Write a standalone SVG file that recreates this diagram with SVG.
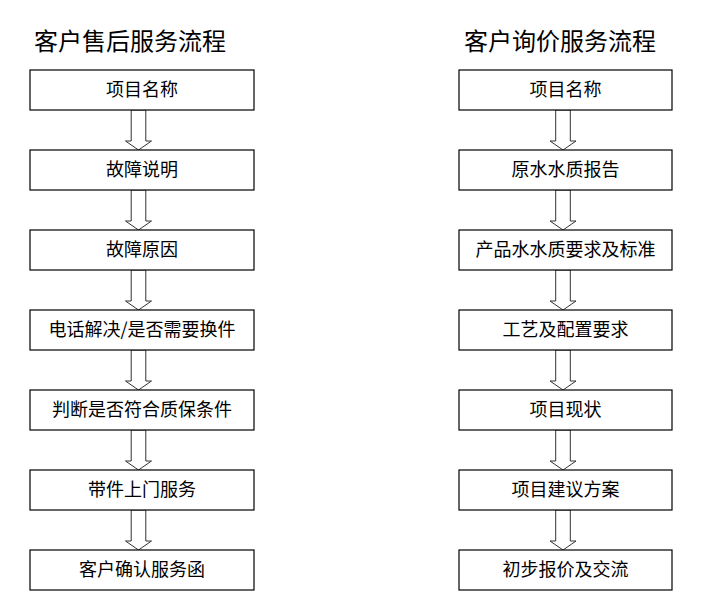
<svg xmlns="http://www.w3.org/2000/svg" width="716" height="616" viewBox="0 0 716 616">
<style>
.box{fill:#fff;stroke:#000;stroke-width:1.2}
.t{font-family:"Noto Sans CJK SC","Liberation Sans",sans-serif;font-size:18px;fill:#000;text-anchor:middle}
.title{font-family:"Noto Sans CJK SC","Liberation Sans",sans-serif;font-size:24px;fill:#000}
.arr{fill:#fff;stroke:#333;stroke-width:1}
</style>
<defs>
<path id="arrow" d="M-7.3,0 H7.3 V31 H13 L0,40 L-13,31 H-7.3 Z"/>
</defs>
<rect width="716" height="616" fill="#fff"/>
<text class="title" x="34" y="50">客户售后服务流程</text>
<text class="title" x="464" y="50">客户询价服务流程</text>
<g id="connectors">
<use href="#arrow" class="arr" transform="translate(138.5,110)"/>
<use href="#arrow" class="arr" transform="translate(138.5,190)"/>
<use href="#arrow" class="arr" transform="translate(138.5,270)"/>
<use href="#arrow" class="arr" transform="translate(138.5,350)"/>
<use href="#arrow" class="arr" transform="translate(138.5,430)"/>
<use href="#arrow" class="arr" transform="translate(138.5,510)"/>
<use href="#arrow" class="arr" transform="translate(563,110)"/>
<use href="#arrow" class="arr" transform="translate(563,190)"/>
<use href="#arrow" class="arr" transform="translate(563,270)"/>
<use href="#arrow" class="arr" transform="translate(563,350)"/>
<use href="#arrow" class="arr" transform="translate(563,430)"/>
<use href="#arrow" class="arr" transform="translate(563,510)"/>
</g>
<g id="L1"><rect class="box" x="30" y="70" width="224" height="40"/><text class="t" x="142" y="96">项目名称</text></g>
<g id="L2"><rect class="box" x="30" y="150" width="224" height="40"/><text class="t" x="142" y="176">故障说明</text></g>
<g id="L3"><rect class="box" x="30" y="230" width="224" height="40"/><text class="t" x="142" y="256">故障原因</text></g>
<g id="L4"><rect class="box" x="30" y="310" width="224" height="40"/><text class="t" x="142" y="336">电话解决/是否需要换件</text></g>
<g id="L5"><rect class="box" x="30" y="390" width="224" height="40"/><text class="t" x="142" y="416">判断是否符合质保条件</text></g>
<g id="L6"><rect class="box" x="30" y="470" width="224" height="40"/><text class="t" x="142" y="496">带件上门服务</text></g>
<g id="L7"><rect class="box" x="30" y="550" width="224" height="40"/><text class="t" x="142" y="576">客户确认服务函</text></g>
<g id="R1"><rect class="box" x="459" y="70" width="213" height="40"/><text class="t" x="565.5" y="96">项目名称</text></g>
<g id="R2"><rect class="box" x="459" y="150" width="213" height="40"/><text class="t" x="565.5" y="176">原水水质报告</text></g>
<g id="R3"><rect class="box" x="459" y="230" width="213" height="40"/><text class="t" x="565.5" y="256">产品水水质要求及标准</text></g>
<g id="R4"><rect class="box" x="459" y="310" width="213" height="40"/><text class="t" x="565.5" y="336">工艺及配置要求</text></g>
<g id="R5"><rect class="box" x="459" y="390" width="213" height="40"/><text class="t" x="565.5" y="416">项目现状</text></g>
<g id="R6"><rect class="box" x="459" y="470" width="213" height="40"/><text class="t" x="565.5" y="496">项目建议方案</text></g>
<g id="R7"><rect class="box" x="459" y="550" width="213" height="40"/><text class="t" x="565.5" y="576">初步报价及交流</text></g>
</svg>
